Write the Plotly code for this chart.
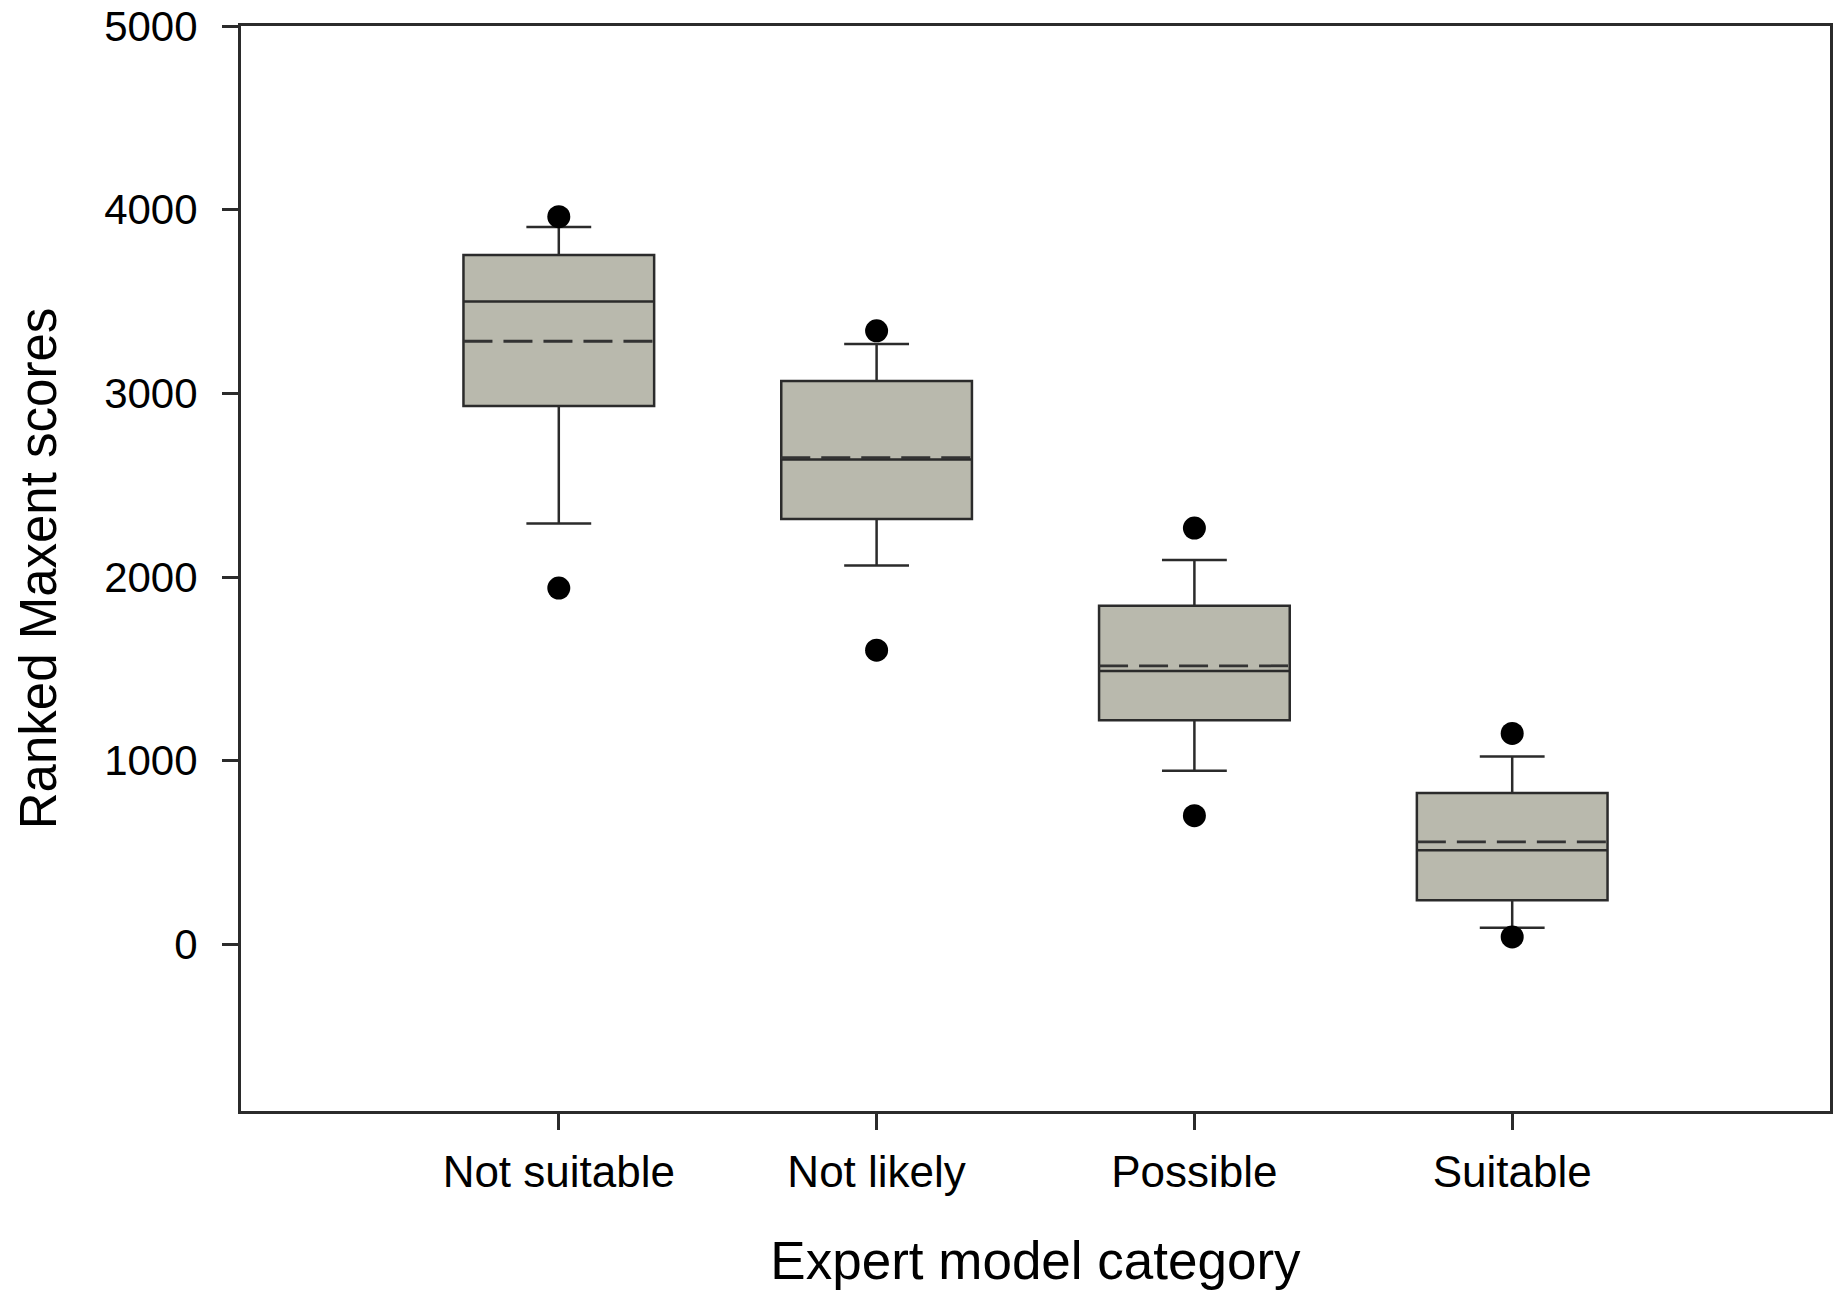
import plotly.graph_objects as go

categories = ["Not suitable", "Not likely", "Possible", "Suitable"]
q1 = [2931, 2316, 1220, 241]
median = [3501, 2640, 1489, 513]
q3 = [3754, 3067, 1844, 824]
lower_whisker = [2292, 2063, 945, 91]
upper_whisker = [3906, 3269, 2093, 1023]
mean = [3284, 2650, 1517, 558]
outlier_high = [3962, 3341, 2267, 1149]
outlier_low = [1940, 1602, 701, 41]

y_ticks = [0, 1000, 2000, 3000, 4000, 5000]

positions = list(range(1, len(categories) + 1))
box_w = 0.6
FONT = "Liberation Sans, Arial, sans-serif"
DARK = "#2b2b2b"

fig = go.Figure()
fig.add_trace(go.Box(
    x=positions, q1=q1, median=median, q3=q3,
    lowerfence=lower_whisker, upperfence=upper_whisker,
    width=box_w, whiskerwidth=0.34, boxpoints=False,
    fillcolor="#b9b9ad", line=dict(color=DARK, width=2.5),
    showlegend=False, hoverinfo="skip",
))

mx, my = [], []
for p, m in zip(positions, mean):
    mx += [p - box_w / 2, p + box_w / 2, None]
    my += [m, m, None]
fig.add_trace(go.Scatter(
    x=mx, y=my, mode="lines",
    line=dict(color="#333333", width=2.8, dash="29px,11px"),
    showlegend=False, hoverinfo="skip",
))

fig.add_trace(go.Scatter(
    x=positions + positions, y=outlier_high + outlier_low, mode="markers",
    marker=dict(color="black", size=23, line=dict(width=0)),
    showlegend=False, hoverinfo="skip",
))

fig.update_layout(
    width=1836, height=1293,
    margin=dict(l=241, r=3, t=21, b=182),
    plot_bgcolor="white", paper_bgcolor="white",
    font=dict(family=FONT, color="black"),
    xaxis=dict(
        range=[0, 5], tickvals=positions, ticktext=categories,
        showgrid=False, zeroline=False,
        showline=True, mirror=True, linecolor=DARK, linewidth=3,
        ticks="outside", ticklen=16, tickwidth=3, tickcolor=DARK,
        tickfont=dict(size=44, family=FONT, color="black"),
        ticklabelstandoff=4,
        title=dict(text="Expert model category", font=dict(size=53, family=FONT, color="black"), standoff=48),
    ),
    yaxis=dict(
        range=[-907, 5000.5], tickvals=y_ticks, ticktext=[str(v) for v in y_ticks],
        showgrid=False, zeroline=False,
        showline=True, mirror=True, linecolor=DARK, linewidth=3,
        ticks="outside", ticklen=16, tickwidth=3, tickcolor=DARK,
        tickfont=dict(size=42, family=FONT, color="black"),
        ticklabelstandoff=16, ticklabeloverflow="allow",
        title=dict(text="Ranked Maxent scores", font=dict(size=51, family=FONT, color="black"), standoff=32),
    ),
)

fig.write_html("out.html")
